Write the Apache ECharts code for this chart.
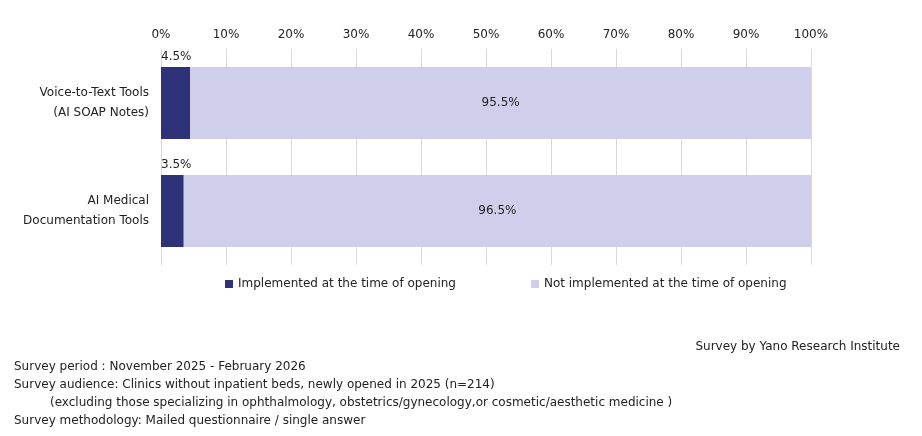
<!DOCTYPE html>
<html><head><meta charset="utf-8">
<script src="https://cdn.jsdelivr.net/npm/echarts@6/dist/echarts.min.js"></script>
<style>html,body{margin:0;padding:0;background:#fff}#c{width:922px;height:436px}</style>
</head><body><div id="c"></div>
<script>
const categories = ["Voice-to-Text Tools\n(AI SOAP Notes)", "AI Medical\nDocumentation Tools"];
const implemented = [4.5, 3.5];
const notImplemented = [95.5, 96.5];
const seriesNames = ["Implemented at the time of opening", "Not implemented at the time of opening"];
const notes = [
  "Survey period : November 2025 - February 2026",
  "Survey audience: Clinics without inpatient beds, newly opened in 2025 (n=214)",
  "　　　(excluding those specializing in ophthalmology, obstetrics/gynecology,or cosmetic/aesthetic medicine )",
  "Survey methodology: Mailed questionnaire / single answer"
];
const font = "DejaVu Sans";
const chart = echarts.init(document.getElementById('c'));
chart.setOption({
  animation:false,
  textStyle:{fontFamily:font},
  grid:{left:161,right:111,top:49,height:216},
  xAxis:{type:'value',min:0,max:100,interval:10,position:'top',
    axisLabel:{formatter:'{value}%',color:'#222',fontSize:12},
    axisLine:{show:false},axisTick:{show:false},
    splitLine:{lineStyle:{color:'#d9d9d9'}}},
  yAxis:{type:'category',data:categories,inverse:true,
    axisLabel:{color:'#222',fontSize:12,lineHeight:20,margin:12},
    axisTick:{show:false},axisLine:{lineStyle:{color:'#d9d9d9'}}},
  legend:{bottom:141,left:220,itemGap:75,itemWidth:8,itemHeight:8,icon:'rect',
    textStyle:{fontSize:12,color:'#222'},data:seriesNames},
  series:[
    {name:seriesNames[0],type:'bar',stack:'a',barWidth:72,data:implemented,
     itemStyle:{color:'#2e3278'},
     label:{show:true,position:[0,-16],formatter:p=>p.value.toFixed(1)+'%',color:'#222',fontSize:12}},
    {name:seriesNames[1],type:'bar',stack:'a',data:notImplemented,
     itemStyle:{color:'#cfcfec'},
     label:{show:true,position:'inside',formatter:p=>p.value.toFixed(1)+'%',color:'#222',fontSize:12}}
  ],
  graphic:[
    {type:'text',right:22,top:341,style:{text:'Survey by Yano Research Institute',font:'12px '+font,fill:'#222'}},
    {type:'text',left:14,top:358,style:{text:notes.join('\n'),font:'12px '+font,lineHeight:18,fill:'#222'}}
  ]
});
</script></body></html>
